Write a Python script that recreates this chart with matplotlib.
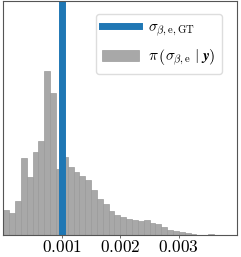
import matplotlib
matplotlib.use("Agg")
import matplotlib.pyplot as plt
import numpy as np
from matplotlib.ticker import FixedLocator

plt.rcParams['mathtext.fontset'] = 'cm'
plt.rcParams['font.family'] = 'DejaVu Serif'

# histogram of posterior samples (bin width 0.0001 starting at 0)
bin_width = 0.0001
bin_start = 0.0
heights = [76, 68, 103, 231, 174, 251, 284, 493, 426, 198,
           234, 206, 191, 178, 166, 136, 108, 94, 74, 61,
           54, 48, 46, 44, 46, 36, 33, 26, 16, 14,
           11, 8, 3, 1, 1, 3]
gt_value = 0.001
xticks = [0.001, 0.002, 0.003]
xtick_labels = ['0.001', '0.002', '0.003']
label_gt = r'$\sigma_{\beta,\mathrm{e},\mathrm{GT}}$'
label_post = r'$\pi\,\left(\sigma_{\beta,\mathrm{e}}\;|\;\boldsymbol{y}\right)$'

fig = plt.figure(figsize=(2.41, 2.57), dpi=100)
ax = fig.add_axes([3.3/241, 1 - 235.3/257, (237.3 - 3.3)/241, (235.3 - 1)/257])

edges = bin_start + bin_width * np.arange(len(heights))
bars = ax.bar(edges, heights, width=bin_width, align='edge', color='#a8a8a8',
              edgecolor='#9a9a9a', linewidth=0.5, zorder=1)
line = ax.axvline(gt_value, color='#1f77b4', linewidth=5, zorder=2)

ax.set_xlim(0, 0.004)
ax.set_ylim(0, 703)
ax.set_yticks([])
ax.xaxis.set_major_locator(FixedLocator(xticks))
ax.set_xticklabels(['$' + t + '$' for t in xtick_labels], fontsize=12.5)
ax.tick_params(axis='x', length=2, width=0.6, pad=0.5, color='#555555')
for s in ax.spines.values():
    s.set_color('#555555')
    s.set_linewidth(0.8)

ax.legend([line, bars], [label_gt, label_post], loc='upper right', fontsize=11,
          handlelength=2.4, handletextpad=0.6, framealpha=1, edgecolor='#dddddd',
          borderaxespad=0.4, borderpad=0.4, labelspacing=0.6,
          bbox_to_anchor=(0.96, 0.97))

fig.savefig('out.png', dpi=100)
